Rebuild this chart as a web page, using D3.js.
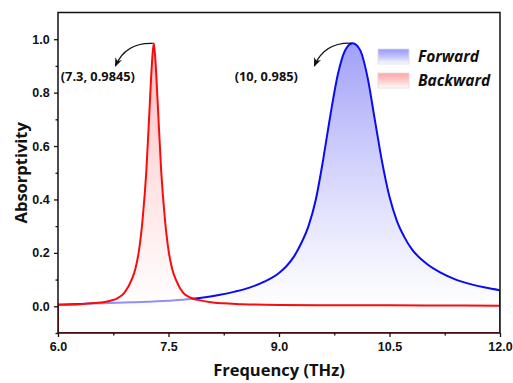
<!DOCTYPE html>
<html>
<head>
<meta charset="utf-8">
<script src="https://cdn.jsdelivr.net/npm/d3@7"></script>
<style>
  body { margin: 0; background: #fff; }
  svg { display: block; font-family: "Open Sans", sans-serif; }
</style>
</head>
<body>
<script>
// Backward (red) and forward (blue) absorption spectra
const backwardFreq = [6.0, 6.3, 6.5, 6.7, 6.8, 6.9, 7.0, 7.05, 7.1, 7.15, 7.2, 7.25, 7.28, 7.3, 7.32, 7.35, 7.4, 7.45, 7.5, 7.55, 7.6, 7.7, 7.8, 7.9, 8.1, 8.5, 9.0, 10.0, 11.0, 12.0];
const backwardAbs = [0.006, 0.008, 0.012, 0.02, 0.029, 0.05, 0.1, 0.14, 0.21, 0.33, 0.51, 0.78, 0.93, 0.9845, 0.93, 0.78, 0.51, 0.33, 0.21, 0.14, 0.1, 0.05, 0.032, 0.024, 0.014, 0.008, 0.005, 0.004, 0.003, 0.002];

const forwardFreq = [6.0, 6.5, 7.0, 7.5, 7.8, 8.0, 8.2, 8.4, 8.6, 8.8, 9.0, 9.1, 9.2, 9.3, 9.4, 9.5, 9.6, 9.7, 9.8, 9.9, 10.0, 10.1, 10.2, 10.3, 10.4, 10.5, 10.6, 10.7, 10.8, 11.0, 11.2, 11.4, 11.6, 11.8, 12.0];
const forwardAbs = [0.006, 0.010, 0.015, 0.021, 0.027, 0.034, 0.043, 0.055, 0.07, 0.092, 0.125, 0.15, 0.185, 0.235, 0.30, 0.40, 0.55, 0.72, 0.87, 0.96, 0.985, 0.96, 0.86, 0.70, 0.54, 0.41, 0.32, 0.26, 0.215, 0.16, 0.125, 0.10, 0.083, 0.07, 0.06];

const xTicks = [6.0, 7.5, 9.0, 10.5, 12.0];
const xMinor = [6.75, 8.25, 9.75, 11.25];
const yTicks = [0.0, 0.2, 0.4, 0.6, 0.8, 1.0];
const yMinor = [-0.1, 0.1, 0.3, 0.5, 0.7, 0.9];

const peaks = [
  { f: 7.3, a: 0.9845, label: "(7.3, 0.9845)", labelDx: -93 },
  { f: 10, a: 0.985, label: "(10, 0.985)", labelDx: -118 }
];
const legendItems = [
  { name: "Forward", color: "#7777ff" },
  { name: "Backward", color: "#ff8888" }
];

const width = 513, height = 383;
const margin = { top: 12.5, right: 13, bottom: 50, left: 58 };

const x = d3.scaleLinear().domain([6, 12]).range([margin.left, width - margin.right]);
const y = d3.scaleLinear().domain([-0.1, 1.1]).range([height - margin.bottom, margin.top]);

const svg = d3.select("body").append("svg")
  .attr("width", width)
  .attr("height", height);

const defs = svg.append("defs");

function gradient(id, top, topOp, bottomOp) {
  const g = defs.append("linearGradient").attr("id", id)
    .attr("x1", 0).attr("y1", 0).attr("x2", 0).attr("y2", 1);
  g.append("stop").attr("offset", "0%").attr("stop-color", top).attr("stop-opacity", topOp);
  g.append("stop").attr("offset", "92%").attr("stop-color", "#fff").attr("stop-opacity", bottomOp);
}
gradient("gradBlue", "#8f8ff8", 0.85, 0.6);
gradient("gradRed", "#ff9a9a", 0.65, 0.55);

defs.append("marker")
  .attr("id", "arrow")
  .attr("viewBox", "0 0 10 10")
  .attr("refX", 8).attr("refY", 5)
  .attr("markerWidth", 7).attr("markerHeight", 7)
  .attr("orient", "auto")
  .append("path")
  .attr("d", "M0,1 L10,5 L0,9 L3,5 Z")
  .attr("fill", "#111");

defs.append("clipPath").attr("id", "plotClip")
  .append("rect")
  .attr("x", margin.left).attr("y", margin.top)
  .attr("width", x(12) - x(6)).attr("height", y(-0.1) - y(1.1));

const area = d3.area()
  .x(d => x(d[0]))
  .y0(y(-0.1))
  .y1(d => y(d[1]))
  .curve(d3.curveMonotoneX);

const forward = d3.zip(forwardFreq, forwardAbs);
const backward = d3.zip(backwardFreq, backwardAbs);

const plot = svg.append("g").attr("clip-path", "url(#plotClip)");

plot.append("path")
  .datum(forward)
  .attr("d", area)
  .attr("fill", "url(#gradBlue)")
  .attr("stroke", "#0b0bf0")
  .attr("stroke-width", 2);

plot.append("path")
  .datum(backward)
  .attr("d", area)
  .attr("fill", "url(#gradRed)")
  .attr("stroke", "#f80c0c")
  .attr("stroke-width", 2);

// frame
svg.append("rect")
  .attr("x", margin.left).attr("y", margin.top)
  .attr("width", x(12) - x(6)).attr("height", y(-0.1) - y(1.1))
  .attr("fill", "none")
  .attr("stroke", "#111")
  .attr("stroke-width", 1.5);

// axes
const xAxis = svg.append("g")
  .attr("transform", `translate(0,${y(-0.1)})`)
  .call(d3.axisBottom(x).tickValues(xTicks).tickSize(4).tickFormat(d3.format(".1f")));
svg.append("g")
  .attr("transform", `translate(0,${y(-0.1)})`)
  .call(d3.axisBottom(x).tickValues(xMinor).tickSize(2.5).tickFormat(""))
  .call(g => g.select(".domain").remove());

const yAxis = svg.append("g")
  .attr("transform", `translate(${margin.left},0)`)
  .call(d3.axisLeft(y).tickValues(yTicks).tickSize(4).tickFormat(d3.format(".1f")));
svg.append("g")
  .attr("transform", `translate(${margin.left},0)`)
  .call(d3.axisLeft(y).tickValues(yMinor).tickSize(2.5).tickFormat(""))
  .call(g => g.select(".domain").remove());

svg.selectAll(".domain").remove();
svg.selectAll(".tick line").attr("stroke", "#111").attr("stroke-width", 1.3);
xAxis.selectAll("text")
  .attr("font-size", 12.5).attr("font-weight", 700).attr("fill", "#111")
  .attr("dy", "0.85em");
yAxis.selectAll("text")
  .attr("font-size", 12.5).attr("font-weight", 700).attr("fill", "#111")
  .attr("dx", "-0.1em");

// axis titles
svg.append("text")
  .attr("x", (x(6) + x(12)) / 2)
  .attr("y", 376)
  .attr("text-anchor", "middle")
  .attr("font-size", 16.5).attr("font-weight", 700).attr("fill", "#111")
  .text("Frequency (THz)");

svg.append("text")
  .attr("transform", `translate(27,${(y(-0.1) + y(1.1)) / 2}) rotate(-90)`)
  .attr("text-anchor", "middle")
  .attr("font-size", 16.5).attr("font-weight", 700).attr("fill", "#111")
  .text("Absorptivity");

// peak annotations
peaks.forEach(p => {
  const px = x(p.f), py = y(p.a);
  const tx = px - 38, ty = py + 22;
  svg.append("path")
    .attr("d", `M${px - 1},${py} Q${px - 28},${py - 1} ${tx},${ty}`)
    .attr("fill", "none")
    .attr("stroke", "#111")
    .attr("stroke-width", 1.3)
    .attr("marker-end", "url(#arrow)");
  svg.append("text")
    .attr("x", px + p.labelDx)
    .attr("y", py + 38)
    .attr("font-size", 12.8).attr("font-weight", 700).attr("fill", "#111")
    .text(p.label);
});

// legend
const legend = svg.append("g").attr("transform", "translate(378,49)");
legendItems.forEach((d, i) => {
  const gid = "leg" + i;
  const lg = defs.append("linearGradient").attr("id", gid)
    .attr("x1", 0).attr("y1", 0).attr("x2", 0).attr("y2", 1);
  lg.append("stop").attr("offset", "0%").attr("stop-color", d.color).attr("stop-opacity", 0.75);
  lg.append("stop").attr("offset", "100%").attr("stop-color", "#fff").attr("stop-opacity", 1);
  const row = legend.append("g").attr("transform", `translate(0,${i * 24})`);
  row.append("rect")
    .attr("width", 31).attr("height", 15)
    .attr("fill", `url(#${gid})`)
    .attr("stroke", "#ddd").attr("stroke-width", 0.8);
  row.append("text")
    .attr("x", 40).attr("y", 13)
    .attr("font-size", 15.5).attr("font-weight", 700).attr("font-style", "italic")
    .attr("fill", "#111")
    .text(d.name);
});
</script>
</body>
</html>
